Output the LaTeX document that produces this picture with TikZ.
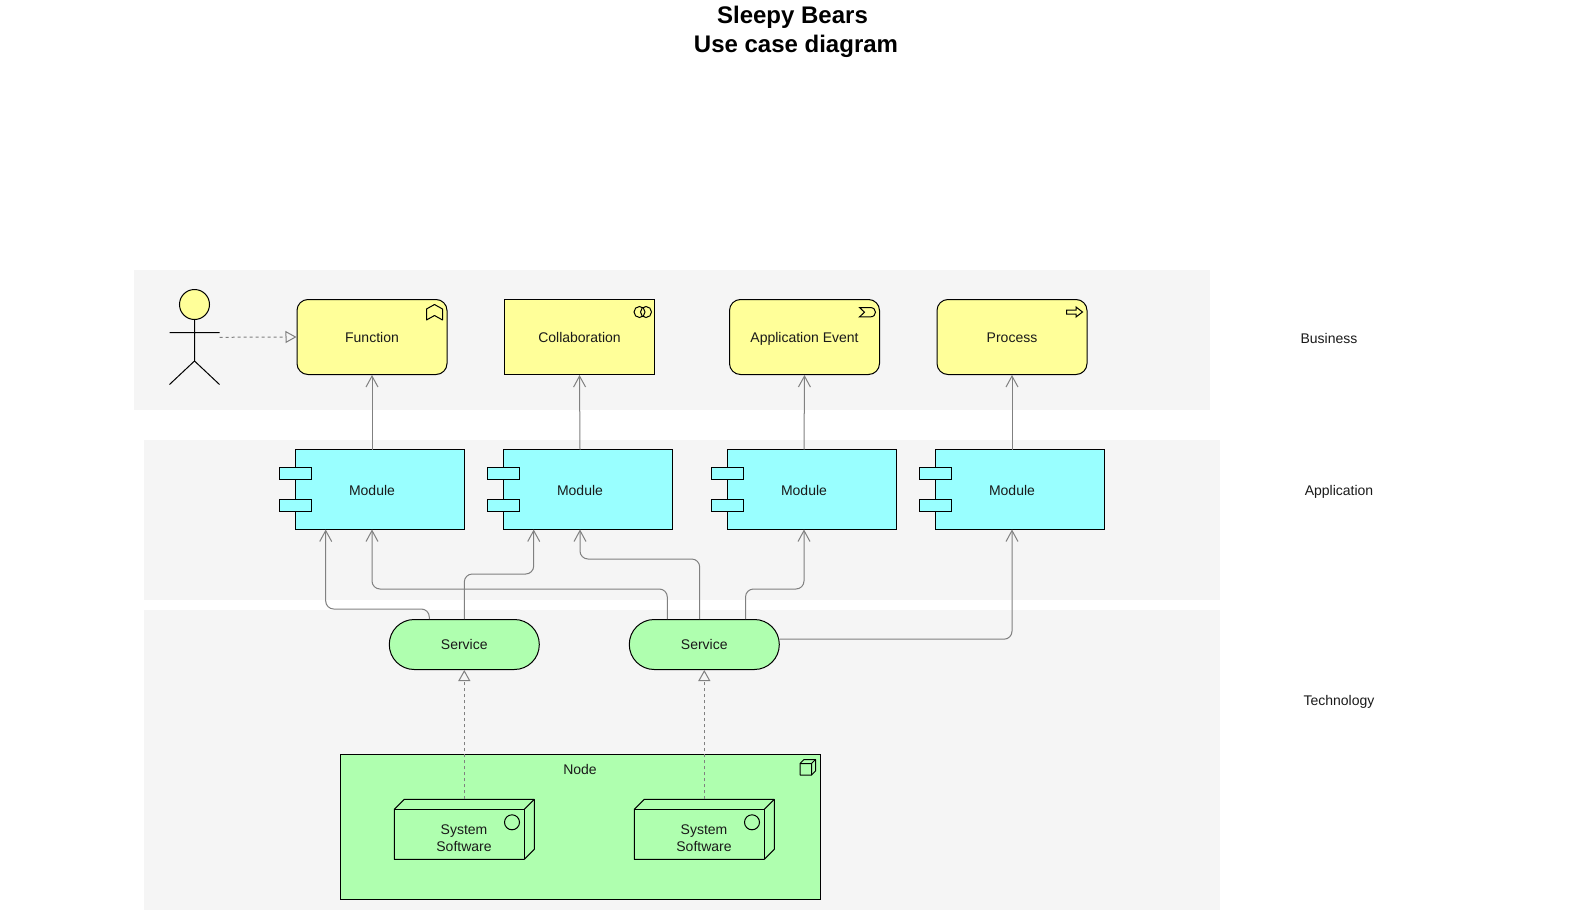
\documentclass[tikz,border=0pt]{standalone}
\usepackage{fontspec}
\setmainfont{Liberation Sans}
\usetikzlibrary{arrows.meta}
\definecolor{bandc}{HTML}{F5F5F5}
\definecolor{bizc}{HTML}{FFFF99}
\definecolor{appc}{HTML}{99FFFF}
\definecolor{tecc}{HTML}{AFFFAF}
\definecolor{linec}{HTML}{808080}
\definecolor{textc}{HTML}{1A1A1A}
\tikzset{
  x=1pt,y=-1pt,
  ink/.style={draw=black,line width=1pt},
  band/.style={fill=bandc,draw=none},
  txt/.style={text=textc,font=\fontsize{14}{17}\selectfont,align=center,inner sep=0pt},
  line1/.style={txt,text height=14pt,text depth=3pt},
  caption/.style={line1},
  heading/.style={text=black,font=\bfseries\fontsize{24}{28}\selectfont,inner sep=0pt,text height=21.5pt,text depth=5pt},
  biz/.style={line1,ink,fill=bizc,minimum width=150pt,minimum height=75pt},
  bizround/.style={biz,rounded corners=11pt},
  svc/.style={line1,text height=12pt,ink,fill=tecc,minimum width=150pt,minimum height=50pt,rounded corners=24.9pt},
  hit/.style={inner sep=0pt,outer sep=0pt},
  flow/.style={draw=linec,line width=1pt,rounded corners=8pt,-{Straight Barb[length=11pt,width=12pt,line width=1pt]}},
  real/.style={draw=linec,line width=1pt,dash pattern=on 3pt off 3pt,-{Triangle[open,length=11pt,width=12pt,fill=bandc,line width=1pt,line cap=butt]}},
}
\newcommand{\modulebox}[3]{%
  \begin{scope}[shift={(#2,#3)}]
    \draw[ink,fill=appc] (-76.5,-40) rectangle (92.5,40);
    \draw[ink,fill=appc] (-92.5,-22) rectangle (-60.5,-10);
    \draw[ink,fill=appc] (-92.5,10) rectangle (-60.5,22);
    \node[line1,minimum width=185pt,minimum height=80pt,outer sep=0pt] (#1) at (0,0) {Module};
  \end{scope}}
\newcommand{\swbox}[3]{%
  \begin{scope}[shift={(#2,#3)}]
    \draw[ink,fill=tecc,line join=round] (-70,-20) -- (-60,-30) -- (70,-30) -- (70,20) -- (60,30) -- (-70,30) -- cycle;
    \draw[ink] (-70,-20) -- (60,-20) -- (60,30);
    \draw[ink] (60,-20) -- (70,-30);
    \draw[ink] (47.7,-7) circle[radius=7.5];
    \node[hit,minimum width=140pt,minimum height=60pt] (#1) at (0,0) {};
    \node[txt] (#1t) at (-0.3,9) {System\\Software};
  \end{scope}}
\begin{document}
\begin{tikzpicture}
\useasboundingbox (0,0) rectangle (1591,910);
\fill[white] (0,0) rectangle (1591,910);
% swimlanes
\path[band] (133.5,269.5) rectangle (1210,409.5);
\path[band] (143.5,439.5) rectangle (1220,599.5);
\path[band] (143.5,609.5) rectangle (1220,910);
% titles
\node[heading] (t1) at (792.5,15) {Sleepy Bears};
\node[heading] (t2) at (796,44) {Use case diagram};
\node[caption] (l1) at (1329,338) {Business};
\node[caption] (l2) at (1339,490) {Application};
\node[caption] (l3) at (1339,699.5) {Technology};
% actor
\draw[ink,fill=bizc] (194.5,304.5) circle[radius=15];
\draw[ink] (194.5,319.5) -- (194.5,361) (169.5,332.5) -- (219.5,332.5) (169.5,384.5) -- (194.5,361) -- (219.5,384.5);
\node[hit,minimum width=50pt,minimum height=10pt] (actor) at (194.5,337.3) {};
% business
\node[bizround] (fun) at (372,337) {Function};
\node[biz] (col) at (579.5,337) {Collaboration};
\node[bizround] (evt) at (804.5,337) {Application Event};
\node[bizround] (pro) at (1012,337) {Process};
% business icons
\draw[ink,line join=round] (426.5,309) -- (434.5,304.5) -- (442.5,309) -- (442.5,320) -- (434.5,315.5) -- (426.5,320) -- cycle;
\draw[ink] (639.5,312) circle[radius=5.5] (646,312) circle[radius=5.5];
\draw[ink,line join=miter] (859.5,307.5) -- (870,307.5) .. controls (873.5,307.5) and (875.5,309.5) .. (875.5,312.2) .. controls (875.5,315) and (873.5,316.9) .. (870,316.9) -- (859.5,316.9) -- (864.5,312.2) -- cycle;
\draw[ink,line join=miter] (1066.5,310) -- (1076,310) -- (1076,307) -- (1082.5,312) -- (1076,317) -- (1076,314) -- (1066.5,314) -- cycle;
% modules
\modulebox{m1}{372}{489.5}
\modulebox{m2}{580}{489.5}
\modulebox{m3}{804}{489.5}
\modulebox{m4}{1012}{489.5}
% node
\node[txt,ink,fill=tecc,minimum width=480pt,minimum height=145pt] (nd) at (580.3,827) {};
\node[line1] (ndt) at (580,769) {Node};
\draw[ink,line join=round] (800,763.5) -- (804,759.5) -- (815.5,759.5) -- (815.5,771) -- (811.5,775) -- (800,775) -- cycle;
\draw[ink] (800,763.5) -- (811.5,763.5) -- (811.5,775) (811.5,763.5) -- (815.5,759.5);
\swbox{sw1}{464.3}{829.3}
\swbox{sw2}{704.3}{829.3}
% services
\node[svc] (s1) at (464.3,644.5) {Service};
\node[svc] (s2) at (704.3,644.5) {Service};
% connectors
\draw[real] (actor.east) -- (fun.west);
\draw[flow] (m1.north) -- (fun.south);
\draw[flow] (m2.north) -- (col.south);
\draw[flow] (m3.north) -- (evt.south);
\draw[flow] (m4.north) -- (pro.south);
\draw[flow] ([xshift=-35pt]s1.north) -- ++(0,-10) -| ([xshift=-46.3pt]m1.south);
\draw[flow] (s1.north) -- ++(0,-45) -| ([xshift=-46.3pt]m2.south);
\draw[flow] ([xshift=-37pt]s2.north) -- ++(0,-30) -| (m1.south);
\draw[flow] ([xshift=-4.6pt]s2.north) -- ++(0,-60) -| (m2.south);
\draw[flow] ([xshift=41.2pt]s2.north) -- ++(0,-30) -| (m3.south);
\draw[flow] ([yshift=5.3pt]s2.east) -| (m4.south);
\draw[real] (sw1.north) -- (s1.south);
\draw[real] (sw2.north) -- (s2.south);
\end{tikzpicture}
\end{document}
